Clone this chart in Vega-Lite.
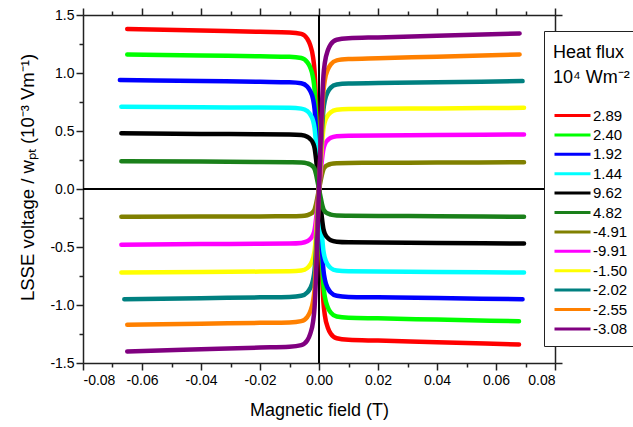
{
  "$schema": "https://vega.github.io/schema/vega-lite/v6.json",
  "width": 472,
  "height": 348,
  "autosize": {"type": "none"},
  "padding": {"left": 83, "top": 15, "right": 78, "bottom": 64},
  "background": "white",
  "config": {
    "font": "Liberation Sans",
    "view": {"stroke": null},
    "axis": {"grid": false, "domainColor": "#222", "domainWidth": 1.5, "tickColor": "#222", "tickWidth": 1.5, "labelColor": "black", "titleColor": "black", "labelFont": "Liberation Sans", "titleFont": "Liberation Sans", "labelFontSize": 14, "titleFontSize": 18, "titleFontWeight": "normal"}
  },
  "data": {"values": [
    {"h":"2.89","x":-0.065,"y":1.38},{"h":"2.89","x":-0.04,"y":1.367},{"h":"2.89","x":-0.02,"y":1.355},{"h":"2.89","x":-0.01,"y":1.35},{"h":"2.89","x":-0.006,"y":1.337},{"h":"2.89","x":-0.004,"y":1.296},{"h":"2.89","x":-0.003,"y":1.242},{"h":"2.89","x":-0.002,"y":1.134},{"h":"2.89","x":-0.0015,"y":1.013},{"h":"2.89","x":-0.001,"y":0.743},{"h":"2.89","x":-0.0005,"y":0.378},{"h":"2.89","x":0,"y":0},{"h":"2.89","x":0.0005,"y":-0.364},{"h":"2.89","x":0.001,"y":-0.715},{"h":"2.89","x":0.0015,"y":-0.975},{"h":"2.89","x":0.002,"y":-1.092},{"h":"2.89","x":0.003,"y":-1.196},{"h":"2.89","x":0.004,"y":-1.248},{"h":"2.89","x":0.006,"y":-1.287},{"h":"2.89","x":0.01,"y":-1.3},{"h":"2.89","x":0.02,"y":-1.307},{"h":"2.89","x":0.04,"y":-1.321},{"h":"2.89","x":0.0678,"y":-1.34},

    {"h":"2.40","x":-0.065,"y":1.16},{"h":"2.40","x":-0.04,"y":1.151},{"h":"2.40","x":-0.02,"y":1.144},{"h":"2.40","x":-0.01,"y":1.14},{"h":"2.40","x":-0.006,"y":1.129},{"h":"2.40","x":-0.004,"y":1.094},{"h":"2.40","x":-0.003,"y":1.049},{"h":"2.40","x":-0.002,"y":0.958},{"h":"2.40","x":-0.0015,"y":0.855},{"h":"2.40","x":-0.001,"y":0.627},{"h":"2.40","x":-0.0005,"y":0.319},{"h":"2.40","x":0,"y":0},{"h":"2.40","x":0.0005,"y":-0.311},{"h":"2.40","x":0.001,"y":-0.611},{"h":"2.40","x":0.0015,"y":-0.833},{"h":"2.40","x":0.002,"y":-0.932},{"h":"2.40","x":0.003,"y":-1.021},{"h":"2.40","x":0.004,"y":-1.066},{"h":"2.40","x":0.006,"y":-1.099},{"h":"2.40","x":0.01,"y":-1.11},{"h":"2.40","x":0.02,"y":-1.115},{"h":"2.40","x":0.04,"y":-1.126},{"h":"2.40","x":0.0678,"y":-1.14},

    {"h":"1.92","x":-0.0675,"y":0.94},{"h":"1.92","x":-0.04,"y":0.931},{"h":"1.92","x":-0.02,"y":0.924},{"h":"1.92","x":-0.01,"y":0.92},{"h":"1.92","x":-0.006,"y":0.911},{"h":"1.92","x":-0.004,"y":0.883},{"h":"1.92","x":-0.003,"y":0.846},{"h":"1.92","x":-0.002,"y":0.773},{"h":"1.92","x":-0.0015,"y":0.69},{"h":"1.92","x":-0.001,"y":0.506},{"h":"1.92","x":-0.0005,"y":0.258},{"h":"1.92","x":0,"y":0},{"h":"1.92","x":0.0005,"y":-0.26},{"h":"1.92","x":0.001,"y":-0.512},{"h":"1.92","x":0.0015,"y":-0.698},{"h":"1.92","x":0.002,"y":-0.781},{"h":"1.92","x":0.003,"y":-0.856},{"h":"1.92","x":0.004,"y":-0.893},{"h":"1.92","x":0.006,"y":-0.921},{"h":"1.92","x":0.01,"y":-0.93},{"h":"1.92","x":0.02,"y":-0.933},{"h":"1.92","x":0.04,"y":-0.94},{"h":"1.92","x":0.069,"y":-0.95},

    {"h":"1.44","x":-0.067,"y":0.71},{"h":"1.44","x":-0.04,"y":0.705},{"h":"1.44","x":-0.02,"y":0.702},{"h":"1.44","x":-0.01,"y":0.7},{"h":"1.44","x":-0.006,"y":0.693},{"h":"1.44","x":-0.004,"y":0.672},{"h":"1.44","x":-0.003,"y":0.644},{"h":"1.44","x":-0.002,"y":0.588},{"h":"1.44","x":-0.0015,"y":0.525},{"h":"1.44","x":-0.001,"y":0.385},{"h":"1.44","x":-0.0005,"y":0.196},{"h":"1.44","x":0,"y":0},{"h":"1.44","x":0.0005,"y":-0.199},{"h":"1.44","x":0.001,"y":-0.391},{"h":"1.44","x":0.0015,"y":-0.533},{"h":"1.44","x":0.002,"y":-0.596},{"h":"1.44","x":0.003,"y":-0.653},{"h":"1.44","x":0.004,"y":-0.682},{"h":"1.44","x":0.006,"y":-0.703},{"h":"1.44","x":0.01,"y":-0.71},{"h":"1.44","x":0.02,"y":-0.712},{"h":"1.44","x":0.04,"y":-0.715},{"h":"1.44","x":0.0695,"y":-0.72},

    {"h":"9.62","x":-0.067,"y":0.48},{"h":"9.62","x":-0.04,"y":0.475},{"h":"9.62","x":-0.02,"y":0.472},{"h":"9.62","x":-0.01,"y":0.47},{"h":"9.62","x":-0.006,"y":0.465},{"h":"9.62","x":-0.004,"y":0.451},{"h":"9.62","x":-0.003,"y":0.432},{"h":"9.62","x":-0.002,"y":0.395},{"h":"9.62","x":-0.0015,"y":0.353},{"h":"9.62","x":-0.001,"y":0.259},{"h":"9.62","x":-0.0005,"y":0.132},{"h":"9.62","x":0,"y":0},{"h":"9.62","x":0.0005,"y":-0.129},{"h":"9.62","x":0.001,"y":-0.253},{"h":"9.62","x":0.0015,"y":-0.345},{"h":"9.62","x":0.002,"y":-0.386},{"h":"9.62","x":0.003,"y":-0.423},{"h":"9.62","x":0.004,"y":-0.442},{"h":"9.62","x":0.006,"y":-0.455},{"h":"9.62","x":0.01,"y":-0.46},{"h":"9.62","x":0.02,"y":-0.462},{"h":"9.62","x":0.04,"y":-0.465},{"h":"9.62","x":0.0695,"y":-0.47},

    {"h":"4.82","x":-0.067,"y":0.24},{"h":"4.82","x":-0.04,"y":0.236},{"h":"4.82","x":-0.02,"y":0.232},{"h":"4.82","x":-0.01,"y":0.23},{"h":"4.82","x":-0.006,"y":0.228},{"h":"4.82","x":-0.004,"y":0.221},{"h":"4.82","x":-0.003,"y":0.212},{"h":"4.82","x":-0.002,"y":0.193},{"h":"4.82","x":-0.0015,"y":0.173},{"h":"4.82","x":-0.001,"y":0.127},{"h":"4.82","x":-0.0005,"y":0.064},{"h":"4.82","x":0,"y":0},{"h":"4.82","x":0.0005,"y":-0.064},{"h":"4.82","x":0.001,"y":-0.127},{"h":"4.82","x":0.0015,"y":-0.173},{"h":"4.82","x":0.002,"y":-0.193},{"h":"4.82","x":0.003,"y":-0.212},{"h":"4.82","x":0.004,"y":-0.221},{"h":"4.82","x":0.006,"y":-0.228},{"h":"4.82","x":0.01,"y":-0.23},{"h":"4.82","x":0.02,"y":-0.232},{"h":"4.82","x":0.04,"y":-0.235},{"h":"4.82","x":0.0695,"y":-0.24},

    {"h":"-4.91","x":-0.067,"y":-0.24},{"h":"-4.91","x":-0.04,"y":-0.238},{"h":"-4.91","x":-0.02,"y":-0.236},{"h":"-4.91","x":-0.01,"y":-0.235},{"h":"-4.91","x":-0.006,"y":-0.233},{"h":"-4.91","x":-0.004,"y":-0.226},{"h":"-4.91","x":-0.003,"y":-0.216},{"h":"-4.91","x":-0.002,"y":-0.197},{"h":"-4.91","x":-0.0015,"y":-0.176},{"h":"-4.91","x":-0.001,"y":-0.129},{"h":"-4.91","x":-0.0005,"y":-0.066},{"h":"-4.91","x":0,"y":0},{"h":"-4.91","x":0.0005,"y":0.063},{"h":"-4.91","x":0.001,"y":0.124},{"h":"-4.91","x":0.0015,"y":0.169},{"h":"-4.91","x":0.002,"y":0.189},{"h":"-4.91","x":0.003,"y":0.207},{"h":"-4.91","x":0.004,"y":0.216},{"h":"-4.91","x":0.006,"y":0.223},{"h":"-4.91","x":0.01,"y":0.225},{"h":"-4.91","x":0.02,"y":0.226},{"h":"-4.91","x":0.04,"y":0.228},{"h":"-4.91","x":0.0695,"y":0.23},

    {"h":"-9.91","x":-0.067,"y":-0.48},{"h":"-9.91","x":-0.04,"y":-0.475},{"h":"-9.91","x":-0.02,"y":-0.472},{"h":"-9.91","x":-0.01,"y":-0.47},{"h":"-9.91","x":-0.006,"y":-0.465},{"h":"-9.91","x":-0.004,"y":-0.451},{"h":"-9.91","x":-0.003,"y":-0.432},{"h":"-9.91","x":-0.002,"y":-0.395},{"h":"-9.91","x":-0.0015,"y":-0.353},{"h":"-9.91","x":-0.001,"y":-0.259},{"h":"-9.91","x":-0.0005,"y":-0.132},{"h":"-9.91","x":0,"y":0},{"h":"-9.91","x":0.0005,"y":0.129},{"h":"-9.91","x":0.001,"y":0.253},{"h":"-9.91","x":0.0015,"y":0.345},{"h":"-9.91","x":0.002,"y":0.386},{"h":"-9.91","x":0.003,"y":0.423},{"h":"-9.91","x":0.004,"y":0.442},{"h":"-9.91","x":0.006,"y":0.455},{"h":"-9.91","x":0.01,"y":0.46},{"h":"-9.91","x":0.02,"y":0.462},{"h":"-9.91","x":0.04,"y":0.465},{"h":"-9.91","x":0.0695,"y":0.47},

    {"h":"-1.50","x":-0.067,"y":-0.72},{"h":"-1.50","x":-0.04,"y":-0.715},{"h":"-1.50","x":-0.02,"y":-0.712},{"h":"-1.50","x":-0.01,"y":-0.71},{"h":"-1.50","x":-0.006,"y":-0.703},{"h":"-1.50","x":-0.004,"y":-0.682},{"h":"-1.50","x":-0.003,"y":-0.653},{"h":"-1.50","x":-0.002,"y":-0.596},{"h":"-1.50","x":-0.0015,"y":-0.533},{"h":"-1.50","x":-0.001,"y":-0.391},{"h":"-1.50","x":-0.0005,"y":-0.199},{"h":"-1.50","x":0,"y":0},{"h":"-1.50","x":0.0005,"y":0.193},{"h":"-1.50","x":0.001,"y":0.38},{"h":"-1.50","x":0.0015,"y":0.518},{"h":"-1.50","x":0.002,"y":0.58},{"h":"-1.50","x":0.003,"y":0.635},{"h":"-1.50","x":0.004,"y":0.662},{"h":"-1.50","x":0.006,"y":0.683},{"h":"-1.50","x":0.01,"y":0.69},{"h":"-1.50","x":0.02,"y":0.692},{"h":"-1.50","x":0.04,"y":0.695},{"h":"-1.50","x":0.0695,"y":0.7},

    {"h":"-2.02","x":-0.066,"y":-0.95},{"h":"-2.02","x":-0.04,"y":-0.941},{"h":"-2.02","x":-0.02,"y":-0.934},{"h":"-2.02","x":-0.01,"y":-0.93},{"h":"-2.02","x":-0.006,"y":-0.921},{"h":"-2.02","x":-0.004,"y":-0.893},{"h":"-2.02","x":-0.003,"y":-0.856},{"h":"-2.02","x":-0.002,"y":-0.781},{"h":"-2.02","x":-0.0015,"y":-0.698},{"h":"-2.02","x":-0.001,"y":-0.512},{"h":"-2.02","x":-0.0005,"y":-0.26},{"h":"-2.02","x":0,"y":0},{"h":"-2.02","x":0.0005,"y":0.255},{"h":"-2.02","x":0.001,"y":0.501},{"h":"-2.02","x":0.0015,"y":0.683},{"h":"-2.02","x":0.002,"y":0.764},{"h":"-2.02","x":0.003,"y":0.837},{"h":"-2.02","x":0.004,"y":0.874},{"h":"-2.02","x":0.006,"y":0.901},{"h":"-2.02","x":0.01,"y":0.91},{"h":"-2.02","x":0.02,"y":0.913},{"h":"-2.02","x":0.04,"y":0.92},{"h":"-2.02","x":0.069,"y":0.93},

    {"h":"-2.55","x":-0.065,"y":-1.17},{"h":"-2.55","x":-0.04,"y":-1.161},{"h":"-2.55","x":-0.02,"y":-1.154},{"h":"-2.55","x":-0.01,"y":-1.15},{"h":"-2.55","x":-0.006,"y":-1.139},{"h":"-2.55","x":-0.004,"y":-1.104},{"h":"-2.55","x":-0.003,"y":-1.058},{"h":"-2.55","x":-0.002,"y":-0.966},{"h":"-2.55","x":-0.0015,"y":-0.863},{"h":"-2.55","x":-0.001,"y":-0.633},{"h":"-2.55","x":-0.0005,"y":-0.322},{"h":"-2.55","x":0,"y":0},{"h":"-2.55","x":0.0005,"y":0.314},{"h":"-2.55","x":0.001,"y":0.616},{"h":"-2.55","x":0.0015,"y":0.84},{"h":"-2.55","x":0.002,"y":0.941},{"h":"-2.55","x":0.003,"y":1.03},{"h":"-2.55","x":0.004,"y":1.075},{"h":"-2.55","x":0.006,"y":1.109},{"h":"-2.55","x":0.01,"y":1.12},{"h":"-2.55","x":0.02,"y":1.127},{"h":"-2.55","x":0.04,"y":1.141},{"h":"-2.55","x":0.068,"y":1.16},

    {"h":"-3.08","x":-0.065,"y":-1.4},{"h":"-3.08","x":-0.04,"y":-1.382},{"h":"-3.08","x":-0.02,"y":-1.367},{"h":"-3.08","x":-0.01,"y":-1.36},{"h":"-3.08","x":-0.006,"y":-1.346},{"h":"-3.08","x":-0.004,"y":-1.306},{"h":"-3.08","x":-0.003,"y":-1.251},{"h":"-3.08","x":-0.002,"y":-1.142},{"h":"-3.08","x":-0.0015,"y":-1.02},{"h":"-3.08","x":-0.001,"y":-0.748},{"h":"-3.08","x":-0.0005,"y":-0.381},{"h":"-3.08","x":0,"y":0},{"h":"-3.08","x":0.0005,"y":0.364},{"h":"-3.08","x":0.001,"y":0.715},{"h":"-3.08","x":0.0015,"y":0.975},{"h":"-3.08","x":0.002,"y":1.092},{"h":"-3.08","x":0.003,"y":1.196},{"h":"-3.08","x":0.004,"y":1.248},{"h":"-3.08","x":0.006,"y":1.287},{"h":"-3.08","x":0.01,"y":1.3},{"h":"-3.08","x":0.02,"y":1.307},{"h":"-3.08","x":0.04,"y":1.321},{"h":"-3.08","x":0.068,"y":1.34}
  ]},
  "layer": [
    {
      "mark": {"type": "rule", "color": "black", "strokeWidth": 1.3},
      "encoding": {
        "x": {"datum": 0, "type": "quantitative", "scale": {"domain": [-0.08, 0.08], "nice": false, "zero": false},
          "axis": {"orient": "top", "title": null, "labels": false,
            "values": [-0.08,-0.07,-0.06,-0.05,-0.04,-0.03,-0.02,-0.01,0,0.01,0.02,0.03,0.04,0.05,0.06,0.07,0.08],
            "tickSize": {"condition": {"test": "abs(datum.value*50 - round(datum.value*50)) < 0.000001", "value": 7}, "value": 4}}}
      }
    },
    {
      "mark": {"type": "rule", "color": "black", "strokeWidth": 1.3},
      "encoding": {
        "y": {"datum": 0, "type": "quantitative", "scale": {"domain": [-1.5, 1.5], "nice": false, "zero": false},
          "axis": {"orient": "right", "title": null, "labels": false,
            "values": [-1.5,-1.25,-1,-0.75,-0.5,-0.25,0,0.25,0.5,0.75,1,1.25,1.5],
            "tickSize": {"condition": {"test": "abs(datum.value*2 - round(datum.value*2)) < 0.000001", "value": 7}, "value": 4}}}
      }
    },
    {
      "mark": {"type": "line", "strokeWidth": 4.5, "strokeCap": "round", "strokeJoin": "round", "interpolate": "monotone"},
      "encoding": {
        "x": {"field": "x", "type": "quantitative", "scale": {"domain": [-0.08, 0.08], "nice": false, "zero": false},
          "axis": {"orient": "bottom", "title": "Magnetic field (T)", "titlePadding": 14, "labelPadding": 3,
            "values": [-0.08,-0.07,-0.06,-0.05,-0.04,-0.03,-0.02,-0.01,0,0.01,0.02,0.03,0.04,0.05,0.06,0.07,0.08],
            "labelExpr": "abs(datum.value*50 - round(datum.value*50)) < 0.000001 ? replace(format(datum.value, '.2f'), '−', '-') : ''",
            "tickSize": {"condition": {"test": "abs(datum.value*50 - round(datum.value*50)) < 0.000001", "value": 7}, "value": 4}}},
        "y": {"field": "y", "type": "quantitative", "scale": {"domain": [-1.5, 1.5], "nice": false, "zero": false},
          "axis": {"orient": "left", "title": "LSSE voltage / wₚₜ (10⁻³ Vm⁻¹)", "titlePadding": 12, "labelPadding": 2, "titleY": 162, "titleFontSize": 18.5,
            "values": [-1.5,-1.25,-1,-0.75,-0.5,-0.25,0,0.25,0.5,0.75,1,1.25,1.5],
            "labelExpr": "abs(datum.value*2 - round(datum.value*2)) < 0.000001 ? replace(format(datum.value, '.1f'), '−', '-') : ''",
            "tickSize": {"condition": {"test": "abs(datum.value*2 - round(datum.value*2)) < 0.000001", "value": 7}, "value": 4}}},
        "color": {"field": "h", "type": "nominal", "sort": null,
          "scale": {"domain": ["2.89","2.40","1.92","1.44","9.62","4.82","-4.91","-9.91","-1.50","-2.02","-2.55","-3.08"],
            "range": ["#ff0000","#00ff00","#0000ff","#00ffff","#000000","#1a801a","#808000","#ff00ff","#ffff00","#008080","#ff8000","#800080"]},
          "legend": {"orient": "none", "legendX": 461, "legendY": 16, "title": ["Heat flux", "10⁴ Wm⁻²"],
            "titleFont": "Liberation Sans", "titleFontSize": 18, "titleFontWeight": "normal", "titleColor": "black", "titleLineHeight": 25, "titleBaseline": "line-top", "titlePadding": 23,
            "labelFont": "Liberation Sans", "labelFontSize": 15, "labelColor": "black", "labelOffset": 21,
            "symbolType": "M-1,0H3.5", "symbolStrokeWidth": 3, "symbolSize": 256,
            "fillColor": "white", "strokeColor": "#222", "padding": 9, "rowPadding": 1.4}}
      }
    }
  ],
  "resolve": {"axis": {"x": "independent", "y": "independent"}}
}
